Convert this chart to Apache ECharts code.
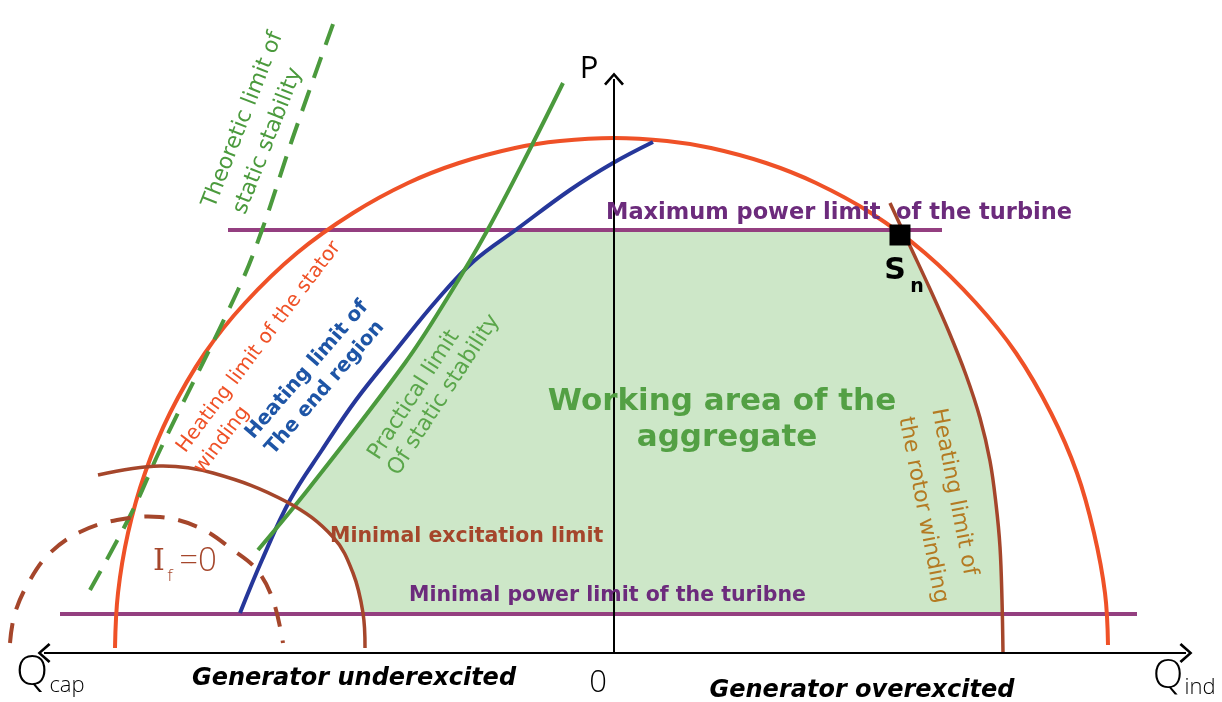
<!DOCTYPE html>
<html>
<head>
<meta charset="utf-8">
<title>Generator capability diagram</title>
<script src="https://cdn.jsdelivr.net/npm/echarts@6/dist/echarts.min.js"></script>
<style>
  html, body { margin: 0; padding: 0; background: #fff; }
  #chart { width: 1222px; height: 702px; }
</style>
</head>
<body>
<div id="chart"></div>
<script>
// Q = reactive power (right = inductive), P = active power
const statorLimit = [[-499, 5], [-496, 60], [-486, 120], [-469, 180], [-444, 240], [-409, 300], [-369, 350], [-317, 400], [-261, 440], [-206, 470], [-155, 490], [-99, 505], [-54, 512], [0, 515], [53, 512], [97, 505], [152, 490], [202, 470], [257, 440], [311, 400], [362, 350], [402, 300], [437, 240], [463, 180], [480, 120], [491, 60], [494, 8]];
const endRegionLimit = [[-374, 40], [-352, 93], [-324, 153], [-292, 203], [-258, 253], [-218, 303], [-177, 353], [-140, 392], [-97, 424], [-44, 463], [-1, 490], [39, 511]];
const practicalStability = [[-356, 103], [-304, 166], [-209, 290], [-166, 356], [-127, 422], [-82, 508], [-51, 570]];
const theoreticStability = [[-524, 63], [-482, 141], [-454, 203], [-376, 363], [-352, 423], [-322, 513], [-277, 640]];
const minExcitation = [[-516, 178], [-454, 187], [-401, 180], [-327, 151], [-281, 116], [-261, 80], [-251, 40], [-249, 5]];
const zeroExcitation = [[-604, 10], [-599, 40], [-584, 73], [-564, 100], [-534, 121], [-497, 133], [-454, 136], [-414, 125], [-381, 103], [-357, 83], [-341, 53], [-331, 10]];
const rotorLimit = [[276, 450], [296, 407], [316, 364], [335, 321], [352, 278], [366, 235], [376, 192], [382, 149], [386, 106], [388, 53], [389, 0]];
const turbineMax = [[-386, 423], [328, 423]];
const turbineMin = [[-554, 39], [523, 39]];
const ratedPoint = [[286, 418]];
const workingArea = [[-98, 423], [289, 423], [296, 407], [316, 364], [335, 321], [352, 278], [366, 235], [376, 192], [382, 149], [386, 106], [388, 53], [389, 39], [-251, 39], [-255, 60], [-261, 80], [-270, 99], [-281, 116], [-300, 132], [-320, 145], [-304, 166], [-256, 228], [-209, 290], [-166, 356], [-152, 380], [-140, 392], [-120, 408], [-98, 423]];
const qAxis = [[-570, 0], [572, 0]];
const pAxis = [[0, 0], [0, 574]];

const RED = '#ef5127', BLUE = '#26379a', GREEN = '#4b9a3d', BROWN = '#a5462b',
  PURPLE = '#943f80', PURPLE_TXT = '#6c2b7c', OCHRE = '#b47a22', FILL = '#cde7c8';
const chevron = 'path://M0,0 L10,12 L8,14 L0,4 L-8,14 L-10,12 Z';

// a whole curve as one smooth stroke, placed through the grid's scales
function curve(points, color, width, dash, smooth) {
  return {
    type: 'custom', coordinateSystem: 'cartesian2d', silent: true, z: 3, data: [points[0]],
    renderItem: function (params, api) {
      return {
        type: 'polyline',
        shape: { points: points.map(function (p) { return api.coord(p); }), smooth: smooth === undefined ? 0.38 : smooth },
        style: { stroke: color, lineWidth: width, fill: null, lineDash: dash || null, lineCap: 'butt' }
      };
    }
  };
}

// one text line, centred on (x, y), turned deg degrees anticlockwise
function label(text, x, y, deg, size, color, weight, opts) {
  opts = opts || {};
  return {
    type: 'text', x: x, y: y, rotation: deg * Math.PI / 180, z: 10, silent: true,
    style: {
      text: text, fill: color, fontSize: size, fontWeight: weight || 'normal',
      fontStyle: opts.italic ? 'italic' : 'normal',
      fontFamily: opts.font || 'DejaVu Sans', align: opts.align || 'center', verticalAlign: 'middle'
    }
  };
}

const chart = echarts.init(document.getElementById('chart'));
chart.setOption({
  animation: false,
  backgroundColor: '#fff',
  grid: { left: 0, right: 0, top: 0, bottom: 0 },
  xAxis: { type: 'value', min: -614, max: 608, show: false },
  yAxis: { type: 'value', min: -49, max: 653, show: false },
  series: [
    {
      type: 'custom', silent: true, z: 1, data: [workingArea[0]],
      renderItem: function (params, api) {
        return {
          type: 'polygon',
          shape: { points: workingArea.map(function (p) { return api.coord(p); }) },
          style: { fill: FILL }
        };
      }
    },
    curve(turbineMax, PURPLE, 4, null, 0),
    curve(turbineMin, PURPLE, 4, null, 0),
    curve(statorLimit, RED, 4),
    curve(endRegionLimit, BLUE, 4),
    curve(practicalStability, GREEN, 4),
    curve(theoreticStability, GREEN, 4, [22, 13]),
    curve(minExcitation, BROWN, 3.5),
    curve(zeroExcitation, BROWN, 4, [20, 14]),
    curve(rotorLimit, BROWN, 3.5),
    {
      type: 'scatter', data: ratedPoint, symbol: 'rect', symbolSize: 21, silent: true, z: 6,
      itemStyle: { color: '#000', opacity: 1 }
    },
    {
      type: 'line', data: [], silent: true, z: 5,
      markLine: {
        silent: true, animation: false, label: { show: false },
        symbolSize: [20, 13],
        lineStyle: { color: '#000', width: 2, type: 'solid' },
        emphasis: { disabled: true },
        data: [
          [{ coord: qAxis[0], symbol: chevron }, { coord: qAxis[1], symbol: chevron }],
          [{ coord: pAxis[0], symbol: 'none' }, { coord: pAxis[1], symbol: chevron }]
        ]
      }
    }
  ],
  graphic: [
    label('Theoretic limit of', 243, 120, 68.6, 22, GREEN),
    label('static stability', 268, 141, 68.6, 22, GREEN),
    label('Heating limit of the stator', 259, 347, 53, 20, RED),
    label('winding', 222, 440, 53, 20, RED),
    label('Heating limit of', 307, 370, 49, 20, '#1e55a6', 'bold'),
    label('The end region', 325, 388, 49, 20, '#1e55a6', 'bold'),
    label('Practical limit', 414, 395, 57, 22, '#5aa64a'),
    label('Of static stability', 444, 395, 57, 22, '#5aa64a'),
    label('Heating limit of', 954, 492, -79, 22, OCHRE),
    label('the rotor winding', 923, 510, -79, 22, OCHRE),
    label('Working area of the', 722, 402, 0, 31, '#53a044', 'bold'),
    label('aggregate', 727, 438, 0, 31, '#53a044', 'bold'),
    label('Maximum power limit  of the turbine', 606, 213, 0, 22.5, PURPLE_TXT, 'bold', { align: 'left' }),
    label('Minimal excitation limit', 330, 537, 0, 20.5, BROWN, 'bold', { align: 'left' }),
    label('Minimal power limit of the turibne', 409, 596, 0, 20.5, PURPLE_TXT, 'bold', { align: 'left' }),
    label('Generator underexcited', 354, 679, 0, 24, '#000', 'bold', { italic: true }),
    label('Generator overexcited', 862, 691, 0, 24, '#000', 'bold', { italic: true }),
    label('S', 895, 271, 0, 30, '#000', 'bold'),
    label('n', 917, 287, 0, 19, '#000', 'bold'),
    label('P', 589, 69, 0, 31, '#000', 'normal', { font: 'Open Sans' }),
    label('0', 598, 683, 0, 31, '#000', 300, { font: 'Open Sans' }),
    label('Q', 32, 673, 0, 42, '#000', 300, { font: 'Open Sans' }),
    label('cap', 67, 686, 0, 22, '#000', 300, { font: 'Open Sans' }),
    label('Q', 1168, 677, 0, 40, '#000', 300, { font: 'Open Sans' }),
    label('ind', 1200, 688, 0, 22, '#000', 300, { font: 'Open Sans' }),
    label('I', 159, 562, 0, 30, BROWN, 300, { font: 'DejaVu Serif' }),
    label('f', 170, 576, 0, 17, BROWN, 300, { font: 'Open Sans' }),
    label('=0', 198, 562, 0, 33, BROWN, 300, { font: 'Open Sans' })
  ]
});
</script>
</body>
</html>
